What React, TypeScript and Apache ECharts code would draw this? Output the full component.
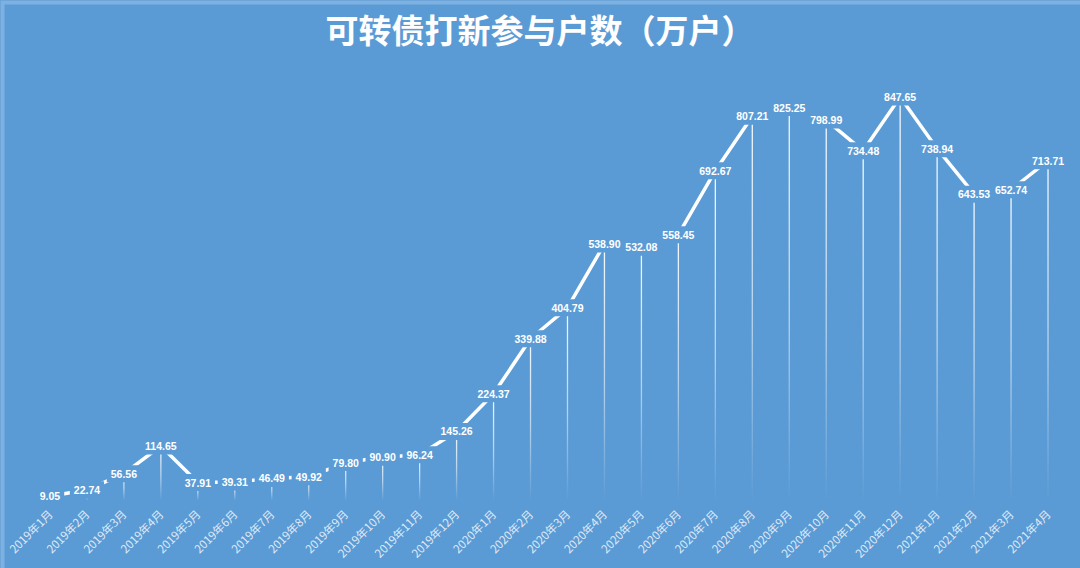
import React, { useEffect, useRef } from "react";
import * as echarts from "echarts";

const months: string[] = [
  "2019年1月", "2019年2月", "2019年3月", "2019年4月", "2019年5月", "2019年6月",
  "2019年7月", "2019年8月", "2019年9月", "2019年10月", "2019年11月", "2019年12月",
  "2020年1月", "2020年2月", "2020年3月", "2020年4月", "2020年5月", "2020年6月",
  "2020年7月", "2020年8月", "2020年9月", "2020年10月", "2020年11月", "2020年12月",
  "2021年1月", "2021年2月", "2021年3月", "2021年4月",
];

// 参与户数（万户）
const accounts: number[] = [
  9.05, 22.74, 56.56, 114.65, 37.91, 39.31, 46.49, 49.92, 79.8, 90.9, 96.24, 145.26,
  224.37, 339.88, 404.79, 538.9, 532.08, 558.45, 692.67, 807.21, 825.25, 798.99, 734.48, 847.65,
  738.94, 643.53, 652.74, 713.71,
];

const BG = "#5b9bd5";

const App: React.FC = () => {
  const chartRef = useRef<HTMLDivElement>(null);

  useEffect(() => {
    if (!chartRef.current) return;
    const chart = echarts.init(chartRef.current, undefined, { renderer: "svg" });

    const option = {
      animation: false,
      backgroundColor: BG,
      title: {
        text: "可转债打新参与户数（万户）",
        left: "center",
        top: 7,
        textStyle: {
          color: "#ffffff",
          fontSize: 33,
          fontWeight: "bold",
          fontFamily: "Noto Sans CJK SC",
        },
      },
      graphic: [
        {
          type: "rect",
          left: 0,
          top: 0,
          shape: { width: 1080, height: 568 },
          style: { fill: "none", stroke: "#7fb1e0", lineWidth: 4 },
          silent: true,
        },
      ],
      grid: { left: 31.5, right: 13.5, top: 72, bottom: 67.4 },
      xAxis: {
        type: "category",
        data: months,
        axisLine: { show: false },
        axisTick: { show: false },
        axisLabel: {
          interval: 0,
          rotate: 45,
          margin: 11,
          fontSize: 11.5,
          color: "rgba(255,255,255,0.8)",
          fontFamily: "Noto Sans CJK SC",
        },
      },
      yAxis: {
        type: "value",
        min: 0,
        max: 900,
        show: false,
        splitLine: { show: false },
      },
      series: [
        {
          name: "drop",
          type: "bar",
          data: accounts,
          barWidth: 1.3,
          silent: true,
          itemStyle: {
            color: new echarts.graphic.LinearGradient(0, 0, 0, 1, [
              { offset: 0, color: "rgba(255,255,255,0.95)" },
              { offset: 0.55, color: "rgba(255,255,255,0.55)" },
              { offset: 1, color: "rgba(255,255,255,0)" },
            ]),
          },
          z: 1,
        },
        {
          name: "参与户数",
          type: "line",
          data: accounts,
          symbol: "circle",
          symbolSize: 1,
          itemStyle: { color: "#ffffff" },
          lineStyle: { color: "#ffffff", width: 3.5 },
          z: 2,
          label: {
            show: true,
            position: "inside",
            formatter: (p: any) => Number(p.value).toFixed(2),
            color: "#ffffff",
            fontSize: 10.5,
            fontWeight: "bold",
            fontFamily: "Liberation Sans",
            backgroundColor: BG,
            padding: [3, 4, 3, 4],
          },
        },
      ],
    };

    chart.setOption(option);
    return () => {
      chart.dispose();
    };
  }, []);

  return (
    <div
      ref={chartRef}
      style={{ position: "fixed", left: 0, top: 0, width: "1080px", height: "568px" }}
    />
  );
};

export default App;
